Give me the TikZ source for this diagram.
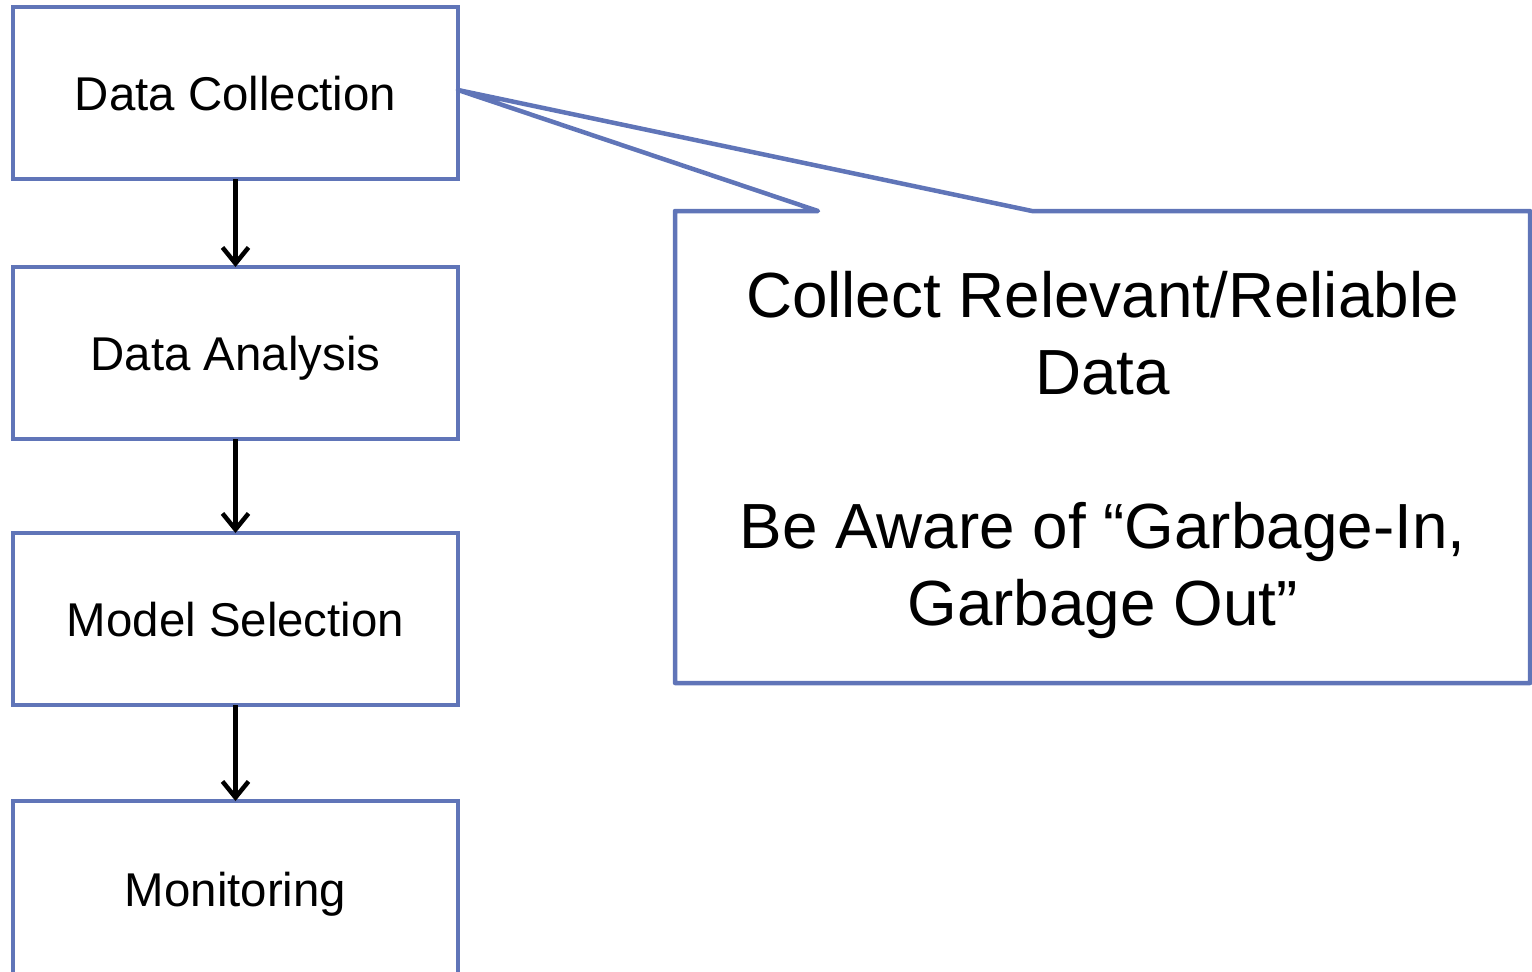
\documentclass[tikz,border=0pt]{standalone}
\usepackage{fontspec}
\setmainfont{Liberation Sans}
\usepackage{tikz}
\usetikzlibrary{positioning,arrows.meta}
\definecolor{boxblue}{RGB}{96,117,184}

\begin{document}
\begin{tikzpicture}[
	stage/.style={draw=boxblue, line width=2.25pt, minimum width=222.5pt, minimum height=86pt,
		outer sep=0pt, text height=17pt, text depth=0pt, font=\fontsize{23.7pt}{28pt}\selectfont},
	flow/.style={line width=2.25pt, -{Straight Barb[length=8pt,width=13pt]}},
	callout/.style={draw=boxblue, line width=2.25pt, line join=round}]
	\clip (0pt,0pt) rectangle (766pt,-485.5pt);
	\node[stage] (collect) at (117.75pt,-46.5pt) {Data Collection};
	\node[stage, below=44pt of collect] (analysis) {Data Analysis};
	\node[stage, below=47pt of analysis] (model) {Model Selection};
	\node[stage, below=48pt of model, minimum height=88pt] (monitor) {Monitoring};
	\draw[flow] (collect) -- (analysis);
	\draw[flow] (analysis) -- (model);
	\draw[flow] (model) -- (monitor);
	\node[minimum width=427.5pt, minimum height=236pt, outer sep=0pt] (note) at (551.25pt,-223.5pt) {};
	\draw[callout] (note.north west) -- ([xshift=71.5pt]note.north west) -- ([yshift=1.5pt]collect.east)
		-- ([xshift=178.5pt]note.north west) -- (note.north east) -- (note.south east)
		-- (note.south west) -- cycle;
	\node[align=center, font=\fontsize{31.9pt}{38.5pt}\selectfont] (notetext) at ([yshift=-4pt]note.center)
		{Collect Relevant/Reliable\\Data\\[38.5pt]Be Aware of “Garbage-In,\\Garbage Out”};
\end{tikzpicture}
\end{document}
